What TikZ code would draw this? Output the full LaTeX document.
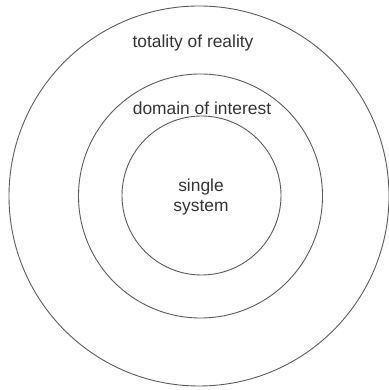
\documentclass[tikz,border=0pt]{standalone}
\usepackage{fontspec}
\setmainfont{Liberation Sans}
\usepackage{xcolor}
\usetikzlibrary{positioning}
\definecolor{ringgray}{HTML}{5A5A5A}
\definecolor{labelgray}{HTML}{333333}
\tikzset{
	ring/.style={circle, draw=ringgray, line width=0.9pt, inner sep=0pt},
	label/.style={text=labelgray, font=\fontsize{17.4}{20}\selectfont, inner sep=0pt},
}

\begin{document}
\begin{tikzpicture}[x=1pt,y=1pt]
	\useasboundingbox (0,0) rectangle (388,390);
	% Rings
	\node[ring, minimum size=380pt] (R-1) at (199,194) {};
	\node[ring, minimum size=244pt] (R-2) at (200.5,194) {};
	\node[ring, minimum size=159pt] (R-3) at (201.5,194.5) {};
	
	% Labels
	\node[label] (L-1) at (193,347) {totality of reality};
	\node[label] (L-2) at (202,282) {domain of interest};
	\node[label, align=center] (L-3) at (201,193) {single\\system};
\end{tikzpicture}
\end{document}
